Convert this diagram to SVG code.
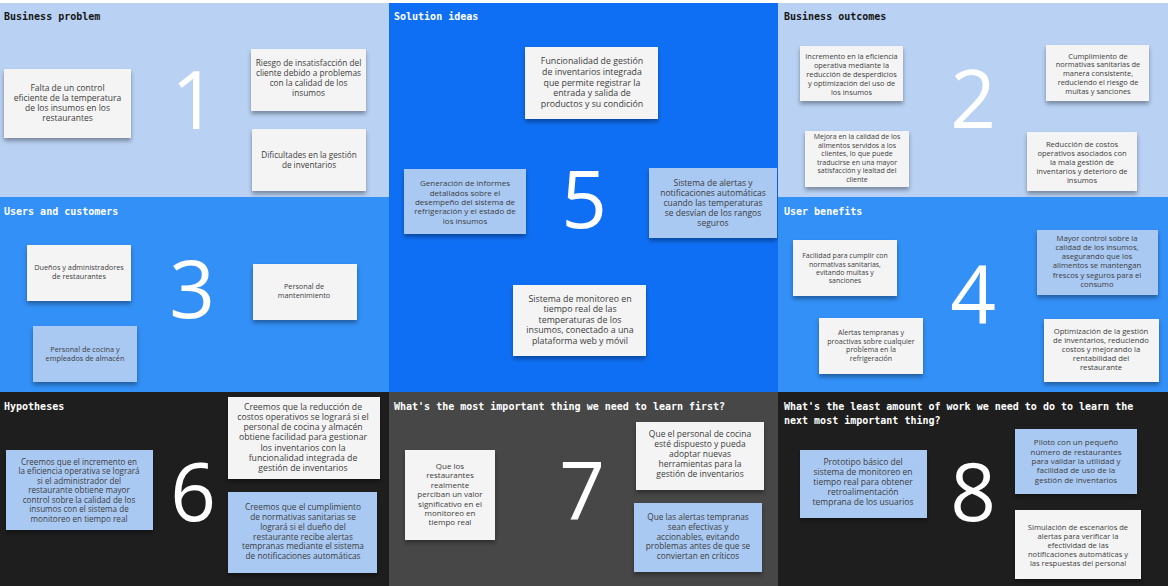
<svg xmlns="http://www.w3.org/2000/svg" width="1168" height="586" viewBox="0 0 1168 586">
<defs>
<filter id="sh" x="-10%" y="-10%" width="120%" height="130%">
<feDropShadow dx="0" dy="3" stdDeviation="2" flood-color="#000" flood-opacity="0.35"/>
</filter>
<style>
.ttl{font-family:"DejaVu Sans Mono","Liberation Mono",monospace;font-weight:bold;font-size:10px}
.dk{fill:#151515}
.lt{fill:#ffffff}
.card{fill:#f4f4f4;filter:url(#sh)}
.cardb{fill:#a9c9f3;filter:url(#sh)}
.ct{font-family:"Open Sans","Noto Sans",sans-serif;fill:#3d3d3d;text-anchor:middle}
.num{font-family:"Open Sans","Noto Sans",sans-serif;font-weight:400;font-size:80px;fill:#ffffff;text-anchor:middle}
</style>
</defs>
<rect x="0" y="0" width="1168" height="586" fill="#ffffff"/>

<g id="panel-business-problem">
<rect x="0" y="3" width="389" height="194" fill="#b9d1f3"/>
<text class="ttl dk" x="4" y="19.5">Business problem</text>
<text class="num" x="194" y="129">1</text>
<g id="bp-1"><rect class="card" x="4" y="69" width="127" height="69"/>
<text class="ct" font-size="8.5"><tspan x="67.5" y="91.3">Falta de un control</tspan><tspan x="67.5" y="101.3">eficiente de la temperatura</tspan><tspan x="67.5" y="111.3">de los insumos en los</tspan><tspan x="67.5" y="121.3">restaurantes</tspan></text></g>
<g id="bp-2"><rect class="card" x="251" y="49" width="115" height="62"/>
<text class="ct" font-size="8.3"><tspan x="308.5" y="66.2">Riesgo de insatisfacción del</tspan><tspan x="308.5" y="76">cliente debido a problemas</tspan><tspan x="308.5" y="85.8">con la calidad de los</tspan><tspan x="308.5" y="95.6">insumos</tspan></text></g>
<g id="bp-3"><rect class="card" x="252" y="129" width="114" height="62"/>
<text class="ct" font-size="8.2"><tspan x="309" y="158">Dificultades en la gestión</tspan><tspan x="309" y="167.7">de inventarios</tspan></text></g>
</g>

<g id="panel-solution-ideas">
<rect x="389" y="3" width="389" height="389" fill="#0f6ff4"/>
<text class="ttl lt" x="394" y="19.5">Solution ideas</text>
<text class="num" x="584" y="228">5</text>
<g id="si-1"><rect class="card" x="525" y="47" width="133" height="72"/>
<text class="ct" font-size="8.8"><tspan x="592" y="64.3">Funcionalidad de gestión</tspan><tspan x="592" y="74.9">de inventarios integrada</tspan><tspan x="592" y="85.5">que permite registrar la</tspan><tspan x="592" y="96.1">entrada y salida de</tspan><tspan x="592" y="106.7">productos y su condición</tspan></text></g>
<g id="si-2"><rect class="cardb" x="404" y="169" width="122" height="65"/>
<text class="ct" font-size="8"><tspan x="465" y="186.2">Generación de informes</tspan><tspan x="465" y="195.6">detallados sobre el</tspan><tspan x="465" y="205">desempeño del sistema de</tspan><tspan x="465" y="214.4">refrigeración y el estado de</tspan><tspan x="465" y="223.8">los insumos</tspan></text></g>
<g id="si-3"><rect class="cardb" x="649" y="168" width="128" height="70"/>
<text class="ct" font-size="8.5"><tspan x="713" y="185.7">Sistema de alertas y</tspan><tspan x="713" y="195.7">notificaciones automáticas</tspan><tspan x="713" y="205.7">cuando las temperaturas</tspan><tspan x="713" y="215.7">se desvían de los rangos</tspan><tspan x="713" y="225.7">seguros</tspan></text></g>
<g id="si-4"><rect class="card" x="513" y="285" width="133" height="71"/>
<text class="ct" font-size="8.8"><tspan x="580" y="301.5">Sistema de monitoreo en</tspan><tspan x="580" y="312.1">tiempo real de las</tspan><tspan x="580" y="322.7">temperaturas de los</tspan><tspan x="580" y="333.3">insumos, conectado a una</tspan><tspan x="580" y="343.9">plataforma web y móvil</tspan></text></g>
</g>

<g id="panel-business-outcomes">
<rect x="778" y="3" width="390" height="194" fill="#b9d1f3"/>
<text class="ttl dk" x="784" y="19.5">Business outcomes</text>
<text class="num" x="973" y="128">2</text>
<g id="bo-1"><rect class="card" x="800" y="46" width="103" height="55"/>
<text class="ct" font-size="7.4"><tspan x="851.5" y="59.3">Incremento en la eficiencia</tspan><tspan x="851.5" y="68.1">operativa mediante la</tspan><tspan x="851.5" y="76.9">reducción de desperdicios</tspan><tspan x="851.5" y="85.7">y optimización del uso de</tspan><tspan x="851.5" y="94.5">los insumos</tspan></text></g>
<g id="bo-2"><rect class="card" x="1046" y="45" width="103" height="56"/>
<text class="ct" font-size="7.4"><tspan x="1098" y="58.6">Cumplimiento de</tspan><tspan x="1098" y="67.4">normativas sanitarias de</tspan><tspan x="1098" y="76.2">manera consistente,</tspan><tspan x="1098" y="85">reduciendo el riesgo de</tspan><tspan x="1098" y="93.8">multas y sanciones</tspan></text></g>
<g id="bo-3"><rect class="card" x="805" y="131" width="104" height="56"/>
<text class="ct" font-size="7"><tspan x="857" y="139.2">Mejora en la calidad de los</tspan><tspan x="857" y="147.7">alimentos servidos a los</tspan><tspan x="857" y="156.2">clientes, lo que puede</tspan><tspan x="857" y="164.7">traducirse en una mayor</tspan><tspan x="857" y="173.2">satisfacción y lealtad del</tspan><tspan x="857" y="181.7">cliente</tspan></text></g>
<g id="bo-4"><rect class="card" x="1027" y="132" width="110" height="59"/>
<text class="ct" font-size="7.6"><tspan x="1082" y="147.1">Reducción de costos</tspan><tspan x="1082" y="156">operativos asociados con</tspan><tspan x="1082" y="164.9">la mala gestión de</tspan><tspan x="1082" y="173.8">inventarios y deterioro de</tspan><tspan x="1082" y="182.7">insumos</tspan></text></g>
</g>

<g id="panel-users-customers">
<rect x="0" y="197" width="389" height="195" fill="#3390f7"/>
<text class="ttl lt" x="4" y="214.5">Users and customers</text>
<text class="num" x="192" y="318">3</text>
<g id="uc-1"><rect class="card" x="27" y="245" width="104" height="56"/>
<text class="ct" font-size="7.3"><tspan x="79" y="270.3">Dueños y administradores</tspan><tspan x="79" y="278.9">de restaurantes</tspan></text></g>
<g id="uc-2"><rect class="card" x="253" y="264" width="104" height="56"/>
<text class="ct" font-size="7.3"><tspan x="304" y="289.3">Personal de</tspan><tspan x="304" y="297.9">mantenimiento</tspan></text></g>
<g id="uc-3"><rect class="cardb" x="33" y="326" width="104" height="56"/>
<text class="ct" font-size="7.3"><tspan x="85" y="352">Personal de cocina y</tspan><tspan x="85" y="361">empleados de almacén</tspan></text></g>
</g>

<g id="panel-user-benefits">
<rect x="778" y="197" width="390" height="195" fill="#3390f7"/>
<text class="ttl lt" x="784" y="214.5">User benefits</text>
<text class="num" x="973" y="323">4</text>
<g id="ub-1"><rect class="card" x="793" y="240" width="104" height="56"/>
<text class="ct" font-size="7"><tspan x="845" y="258.4">Facilidad para cumplir con</tspan><tspan x="845" y="266.6">normativas sanitarias,</tspan><tspan x="845" y="274.8">evitando multas y</tspan><tspan x="845" y="283">sanciones</tspan></text></g>
<g id="ub-2"><rect class="cardb" x="1037" y="230" width="121" height="65"/>
<text class="ct" font-size="7.7"><tspan x="1097" y="241.1">Mayor control sobre la</tspan><tspan x="1097" y="250.2">calidad de los insumos,</tspan><tspan x="1097" y="259.3">asegurando que los</tspan><tspan x="1097" y="268.4">alimentos se mantengan</tspan><tspan x="1097" y="277.5">frescos y seguros para el</tspan><tspan x="1097" y="286.6">consumo</tspan></text></g>
<g id="ub-3"><rect class="card" x="819" y="318" width="104" height="56"/>
<text class="ct" font-size="7.1"><tspan x="871" y="335.3">Alertas tempranas y</tspan><tspan x="871" y="343.7">proactivas sobre cualquier</tspan><tspan x="871" y="352.1">problema en la</tspan><tspan x="871" y="360.5">refrigeración</tspan></text></g>
<g id="ub-4"><rect class="card" x="1044" y="319" width="115" height="63"/>
<text class="ct" font-size="7.7"><tspan x="1101" y="333.9">Optimización de la gestión</tspan><tspan x="1101" y="343">de inventarios, reduciendo</tspan><tspan x="1101" y="352.1">costos y mejorando la</tspan><tspan x="1101" y="361.2">rentabilidad del</tspan><tspan x="1101" y="370.3">restaurante</tspan></text></g>
</g>

<g id="panel-hypotheses">
<rect x="0" y="392" width="389" height="194" fill="#1e1e1e"/>
<text class="ttl lt" x="4" y="409.5">Hypotheses</text>
<text class="num" x="193" y="521">6</text>
<g id="hy-1"><rect class="cardb" x="6" y="450" width="147" height="80"/>
<text class="ct" font-size="8.1"><tspan x="79" y="464.7">Creemos que el incremento en</tspan><tspan x="79" y="474.2">la eficiencia operativa se logrará</tspan><tspan x="79" y="483.7">si el administrador del</tspan><tspan x="79" y="493.2">restaurante obtiene mayor</tspan><tspan x="79" y="502.7">control sobre la calidad de los</tspan><tspan x="79" y="512.2">insumos con el sistema de</tspan><tspan x="79" y="521.7">monitoreo en tiempo real</tspan></text></g>
<g id="hy-2"><rect class="card" x="228" y="397" width="152" height="82"/>
<text class="ct" font-size="8.7"><tspan x="303" y="409.8">Creemos que la reducción de</tspan><tspan x="303" y="420">costos operativos se logrará si el</tspan><tspan x="303" y="430.2">personal de cocina y almacén</tspan><tspan x="303" y="440.4">obtiene facilidad para gestionar</tspan><tspan x="303" y="450.6">los inventarios con la</tspan><tspan x="303" y="460.8">funcionalidad integrada de</tspan><tspan x="303" y="471">gestión de inventarios</tspan></text></g>
<g id="hy-3"><rect class="cardb" x="228" y="492" width="149" height="81"/>
<text class="ct" font-size="8.3"><tspan x="303" y="510.4">Creemos que el cumplimiento</tspan><tspan x="303" y="520.1">de normativas sanitarias se</tspan><tspan x="303" y="529.8">logrará si el dueño del</tspan><tspan x="303" y="539.5">restaurante recibe alertas</tspan><tspan x="303" y="549.2">tempranas mediante el sistema</tspan><tspan x="303" y="558.9">de notificaciones automáticas</tspan></text></g>
</g>

<g id="panel-learn-first">
<rect x="389" y="392" width="389" height="194" fill="#474747"/>
<text class="ttl lt" x="394" y="409.5">What's the most important thing we need to learn first?</text>
<text class="num" x="582" y="520">7</text>
<g id="lf-1"><rect class="card" x="405" y="450" width="90" height="90"/>
<text class="ct" font-size="8"><tspan x="450" y="469">Que los</tspan><tspan x="450" y="478.4">restaurantes</tspan><tspan x="450" y="487.8">realmente</tspan><tspan x="450" y="497.2">perciban un valor</tspan><tspan x="450" y="506.6">significativo en el</tspan><tspan x="450" y="516">monitoreo en</tspan><tspan x="450" y="525.4">tiempo real</tspan></text></g>
<g id="lf-2"><rect class="card" x="636" y="422" width="128" height="68"/>
<text class="ct" font-size="8.5"><tspan x="700" y="437">Que el personal de cocina</tspan><tspan x="700" y="447">esté dispuesto y pueda</tspan><tspan x="700" y="457">adoptar nuevas</tspan><tspan x="700" y="467">herramientas para la</tspan><tspan x="700" y="477">gestión de inventarios</tspan></text></g>
<g id="lf-3"><rect class="cardb" x="634" y="503" width="128" height="69"/>
<text class="ct" font-size="8.3"><tspan x="698" y="520.3">Que las alertas tempranas</tspan><tspan x="698" y="530">sean efectivas y</tspan><tspan x="698" y="539.7">accionables, evitando</tspan><tspan x="698" y="549.4">problemas antes de que se</tspan><tspan x="698" y="559.1">conviertan en críticos</tspan></text></g>
</g>

<g id="panel-least-work">
<rect x="778" y="392" width="390" height="194" fill="#1e1e1e"/>
<text class="ttl lt" x="784" y="409.5">What's the least amount of work we need to do to learn the</text>
<text class="ttl lt" x="784" y="423.5">next most important thing?</text>
<text class="num" x="973" y="521">8</text>
<g id="lw-1"><rect class="cardb" x="800" y="450" width="127" height="68"/>
<text class="ct" font-size="8.5"><tspan x="863" y="465.4">Prototipo básico del</tspan><tspan x="863" y="475.4">sistema de monitoreo en</tspan><tspan x="863" y="485.4">tiempo real para obtener</tspan><tspan x="863" y="495.4">retroalimentación</tspan><tspan x="863" y="505.4">temprana de los usuarios</tspan></text></g>
<g id="lw-2"><rect class="cardb" x="1015" y="429" width="122" height="65"/>
<text class="ct" font-size="8"><tspan x="1076" y="445.2">Piloto con un pequeño</tspan><tspan x="1076" y="454.6">número de restaurantes</tspan><tspan x="1076" y="464">para validar la utilidad y</tspan><tspan x="1076" y="473.4">facilidad de uso de la</tspan><tspan x="1076" y="482.8">gestión de inventarios</tspan></text></g>
<g id="lw-3"><rect class="card" x="1015" y="510" width="126" height="69"/>
<text class="ct" font-size="7.6"><tspan x="1078" y="529.5">Simulación de escenarios de</tspan><tspan x="1078" y="538.5">alertas para verificar la</tspan><tspan x="1078" y="547.5">efectividad de las</tspan><tspan x="1078" y="556.5">notificaciones automáticas y</tspan><tspan x="1078" y="565.5">las respuestas del personal</tspan></text></g>
</g>
</svg>
